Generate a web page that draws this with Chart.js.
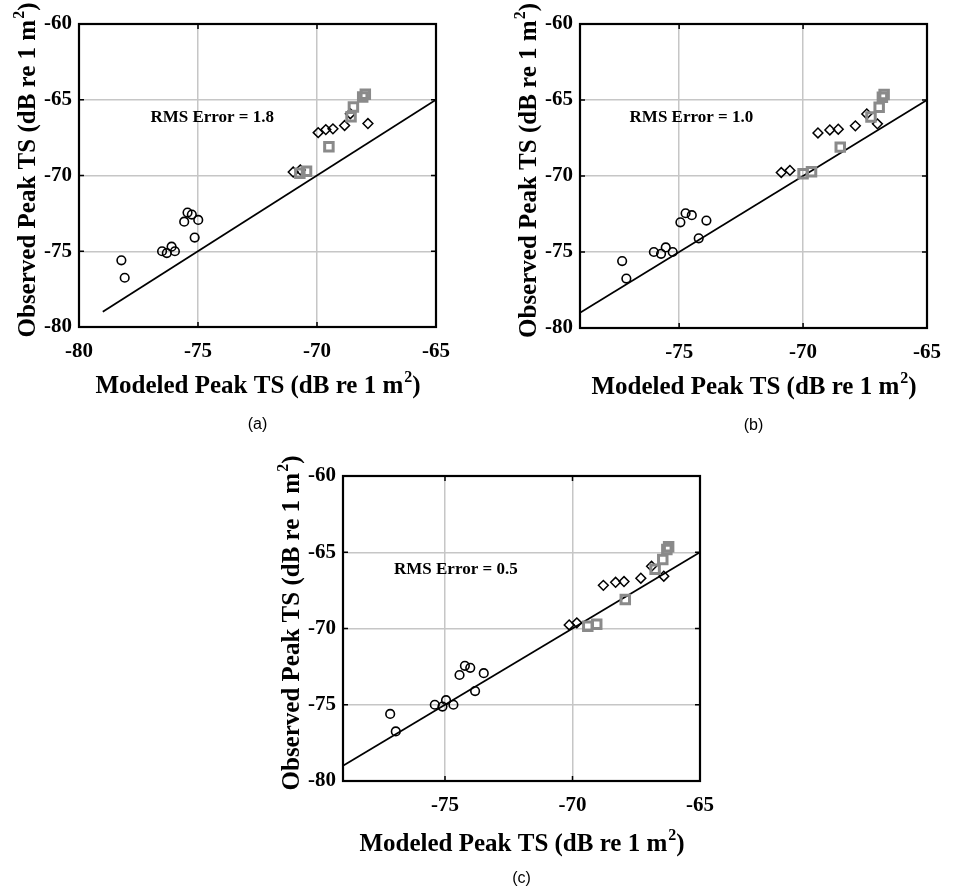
<!DOCTYPE html>
<html lang="en">
<head>
<meta charset="UTF-8">
<title>Modeled vs observed peak TS</title>
<script src="https://cdn.jsdelivr.net/npm/chart.js"></script>
<style>
body { margin:0; background:#fff; }
canvas { position:absolute; }
#panelA { left:0; top:0; }
#panelB { left:476px; top:0; }
#panelC { left:230px; top:440px; }
</style>
</head>
<body>
<canvas id="panelA" width="476" height="440"></canvas>
<canvas id="panelB" width="477" height="440"></canvas>
<canvas id="panelC" width="500" height="451"></canvas>
<script>
// observed peak TS (dB re 1 m^2) - same for all three models
const obsCircle  = [-75.6, -76.75, -75.0, -75.12, -74.7, -75.0, -73.05, -72.45, -72.58, -72.93, -74.1];
const obsDiamond = [-69.77, -69.63, -67.17, -66.97, -66.92, -66.7, -65.92, -66.57];
const obsSquare  = [-69.85, -69.72, -68.1, -66.12, -65.48, -64.82, -64.64];

// modeled peak TS, model a
const modACircle  = [-78.22, -78.08, -76.51, -76.31, -76.11, -75.97, -75.58, -75.44, -75.26, -74.99, -75.14];
const modADiamond = [-71.0, -70.7, -69.95, -69.63, -69.33, -68.84, -68.6, -67.86];
const modASquare  = [-70.72, -70.44, -69.5, -68.57, -68.47, -68.08, -67.97];

// model b
const modBCircle  = [-77.3, -77.13, -76.02, -75.73, -75.54, -75.26, -74.95, -74.74, -74.49, -73.9, -74.21];
const modBDiamond = [-70.88, -70.53, -69.4, -68.92, -68.58, -67.89, -67.43, -67.0];
const modBSquare  = [-70.0, -69.66, -68.5, -67.26, -66.93, -66.8, -66.73];

// model c
const modCCircle  = [-77.15, -76.93, -75.4, -75.1, -74.96, -74.67, -74.43, -74.22, -74.01, -73.48, -73.82];
const modCDiamond = [-70.13, -69.83, -68.79, -68.31, -67.98, -67.32, -66.9, -66.42];
const modCSquare  = [-69.4, -69.05, -67.93, -66.76, -66.46, -66.3, -66.23];

// 1:1 line
const oneToOne = [-79, -65];

const xTickVals = [-80, -75, -70, -65];
const yTickVals = [-80, -75, -70, -65, -60];
const rmsLabels = ['RMS Error = 1.8', 'RMS Error = 1.0', 'RMS Error = 0.5'];
const rmsPos = [-77, -66.15];
const panelNames = ['(a)', '(b)', '(c)'];

const SERIF = '"Liberation Serif", "Times New Roman", Times, serif';

function pts(xs, ys) {
  return xs.map((v, i) => ({x: v, y: ys[i]}));
}

// axis title with a raised "2"
function drawTitle(ctx, head, cx, cy, angle) {
  const main = 'bold 25px ' + SERIF, sup = 'bold 16px ' + SERIF;
  ctx.save();
  ctx.translate(cx, cy);
  ctx.rotate(angle);
  ctx.textAlign = 'left';
  ctx.textBaseline = 'alphabetic';
  ctx.fillStyle = '#000';
  ctx.font = main;
  const w1 = ctx.measureText(head).width;
  const w3 = ctx.measureText(')').width;
  ctx.font = sup;
  const w2 = ctx.measureText('2').width;
  let px = -(w1 + w2 + w3) / 2;
  ctx.font = main; ctx.fillText(head, px, 0); px += w1;
  ctx.font = sup;  ctx.fillText('2', px + 1, -11); px += w2 + 1;
  ctx.font = main; ctx.fillText(')', px, 0);
  ctx.restore();
}

const decor = {
  id: 'decor',
  afterDraw(chart, args, opts) {
    const {ctx, chartArea: a} = chart;
    const x = chart.scales.x, y = chart.scales.y;
    ctx.save();
    // inward tick marks on all four sides
    ctx.strokeStyle = '#000';
    ctx.lineWidth = 1.5;
    ctx.beginPath();
    x.ticks.forEach(t => {
      const p = x.getPixelForValue(t.value);
      ctx.moveTo(p, a.bottom); ctx.lineTo(p, a.bottom - 5);
      ctx.moveTo(p, a.top); ctx.lineTo(p, a.top + 5);
    });
    y.ticks.forEach(t => {
      const p = y.getPixelForValue(t.value);
      ctx.moveTo(a.left, p); ctx.lineTo(a.left + 5, p);
      ctx.moveTo(a.right, p); ctx.lineTo(a.right - 5, p);
    });
    ctx.stroke();
    // box
    ctx.lineWidth = 2.2;
    ctx.strokeRect(a.left, a.top, a.right - a.left, a.bottom - a.top);

    ctx.fillStyle = '#000';
    ctx.font = 'bold 17px ' + SERIF;
    ctx.textAlign = 'left';
    ctx.textBaseline = 'middle';
    ctx.fillText(opts.rms, x.getPixelForValue(rmsPos[0]), y.getPixelForValue(rmsPos[1]));

    const cx = (a.left + a.right) / 2, cy = (a.top + a.bottom) / 2;
    drawTitle(ctx, 'Modeled Peak TS (dB re 1 m', cx, a.bottom + opts.xGap, 0);
    drawTitle(ctx, 'Observed Peak TS (dB re 1 m', a.left - 44, cy - 5, -Math.PI / 2);

    ctx.font = '16px "Liberation Sans", Arial, sans-serif';
    ctx.textAlign = 'center';
    ctx.textBaseline = 'middle';
    ctx.fillText(opts.name, cx, a.bottom + 98);
    ctx.restore();
  }
};

function makePanel(id, xc, xd, xs, xMin, idx, box) {
  const cv = document.getElementById(id);
  return new Chart(cv, {
    type: 'scatter',
    data: {
      datasets: [
        {data: pts(xs, obsSquare), pointStyle: 'rect', pointRadius: 6, borderColor: '#8a8a8a',
         backgroundColor: 'transparent', borderWidth: 3, order: 0},
        {data: pts(xd, obsDiamond), pointStyle: 'rectRot', pointRadius: 4.9, borderColor: '#000',
         backgroundColor: 'transparent', borderWidth: 1.5, order: 1},
        {data: pts(xc, obsCircle), pointStyle: 'circle', pointRadius: 4.3, borderColor: '#000',
         backgroundColor: 'transparent', borderWidth: 1.6, order: 2},
        {type: 'line', data: pts(oneToOne, oneToOne), borderColor: '#000', borderWidth: 1.8,
         pointRadius: 0, fill: false, order: 3}
      ]
    },
    options: {
      responsive: false,
      animation: false,
      events: [],
      layout: {padding: {left: 0, top: box.top, right: cv.width - box.right, bottom: 0}},
      plugins: {
        legend: {display: false},
        tooltip: {enabled: false},
        decor: {rms: rmsLabels[idx], name: panelNames[idx], xGap: box.xGap}
      },
      scales: {
        x: {
          type: 'linear', min: xMin, max: -65,
          afterBuildTicks: s => { s.ticks = xTickVals.filter(v => v >= xMin).map(v => ({value: v})); },
          afterFit: s => { s.height = cv.height - box.bottom; },
          grid: {color: '#c6c6c6', lineWidth: 1.5, drawTicks: false},
          border: {display: false},
          ticks: {color: '#000', padding: 12, maxRotation: 0, autoSkip: false,
                  font: {family: SERIF, size: 21, weight: 'bold'}}
        },
        y: {
          type: 'linear', min: -80, max: -60,
          afterBuildTicks: s => { s.ticks = yTickVals.map(v => ({value: v})); },
          afterFit: s => { s.width = box.left; },
          grid: {color: '#c6c6c6', lineWidth: 1.5, drawTicks: false},
          border: {display: false},
          ticks: {color: '#000', padding: 7, autoSkip: false,
                  font: {family: SERIF, size: 21, weight: 'bold'}}
        }
      }
    },
    plugins: [decor]
  });
}

makePanel('panelA', modACircle, modADiamond, modASquare, -80, 0, {left: 79, right: 436, top: 24, bottom: 327, xGap: 66});
makePanel('panelB', modBCircle, modBDiamond, modBSquare, -79, 1, {left: 104, right: 461.5, top: 24, bottom: 328, xGap: 66});
makePanel('panelC', modCCircle, modCDiamond, modCSquare, -79, 2, {left: 113, right: 470, top: 36, bottom: 341, xGap: 70});
</script>
</body>
</html>
